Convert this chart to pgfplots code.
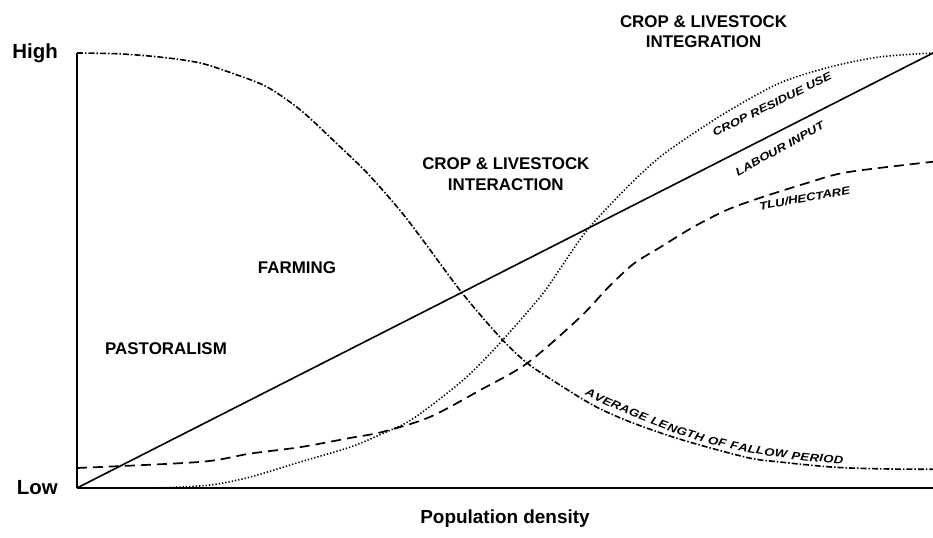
\documentclass[border=0pt]{standalone}
\usepackage{fontspec}
\setmainfont{Liberation Sans}
\setsansfont{Liberation Sans}
\newfontfamily\lab[FakeStretch=1.2]{Liberation Sans}
\usepackage{pgfplots}
\pgfplotsset{compat=1.18}
\usetikzlibrary{decorations.text}
\begin{document}
\begin{tikzpicture}
\useasboundingbox (0,0) rectangle (933bp,538bp);
\begin{axis}[
  at={(77bp,50bp)}, anchor=south west,
  scale only axis, width=856bp, height=435bp,
  xmin=0, xmax=100, ymin=0, ymax=100,
  axis x line*=bottom, axis y line*=left,
  axis line style={-, line width=2bp},
  xtick=\empty,
  ytick={0,100}, yticklabels={\textbf{Low},\textbf{High}},
  major tick length=0pt,
  yticklabel style={font=\fontsize{20.5}{20.5}\selectfont\bfseries, inner sep=0pt, xshift=-19bp},
  xlabel={\textbf{Population density}},
  xlabel style={font=\fontsize{19}{19}\selectfont\bfseries, at={(axis description cs:0.5,0)}, anchor=north, inner sep=0pt, yshift=-22bp},
  clip=false,
]
% Average length of fallow period
\addplot[black, line width=1.6bp, smooth, dash pattern=on 6bp off 2bp on 1.5bp off 2bp] coordinates {
(0,100) (5,99.8) (10,99) (14.4,97.7) (18.2,95.3) (22.2,92.2) (26.1,86.9) (29.9,80) (33.9,72.4) (37.7,63.9) (40.4,57) (45,44.8) (49.4,34.7) (52.6,28.7) (56.8,23.2) (60.7,18.6) (65,14.9) (70.8,11) (78.3,7.0) (82,6.0) (88.3,4.8) (94,4.4) (100,4.3)
};
% Labour input
\addplot[black, line width=1.6bp] coordinates {(0,0) (100,100)};
% TLU/hectare
\addplot[black, line width=1.7bp, smooth, dash pattern=on 10bp off 6bp] coordinates {
(0,4.6) (14.4,6.0) (20.2,7.9) (26.1,9.4) (31.9,11.5) (35.7,12.9) (41.2,16.3) (47.1,22.5) (52.6,28.7) (58.8,39.3) (62,46) (65,51.5) (68.1,55.3) (72,60) (75.9,63.9) (79.8,66.7) (85.6,70.3) (90,72.6) (100,75)
};
% Crop residue use
\addplot[black, line width=1.6bp, smooth, dash pattern=on 1.3bp off 2bp] coordinates {
(0,0) (8,0) (12,0.2) (16,0.8) (20.2,2.5) (26.1,6) (31.9,9.4) (35.7,12.5) (39.3,16.0) (45.1,24.8) (49.4,33.3) (54.1,43.9) (56.4,50.3) (59.6,59.3) (64.3,69.2) (68.1,76.1) (72,81.5) (76.3,86.9) (82.1,93.1) (88,96.8) (93.8,99.1) (100,100)
};

\node[align=center, font=\fontsize{17}{21}\selectfont\bfseries] at (axis cs:50.1,72.1) {CROP \& LIVESTOCK\\INTERACTION};
\node[align=center, font=\fontsize{17}{21}\selectfont\bfseries] at (axis cs:73.2,104.9) {CROP \& LIVESTOCK\\INTEGRATION};
\node[font=\fontsize{17}{17}\selectfont\bfseries] at (axis cs:25.7,50.6) {FARMING};
\node[font=\fontsize{17}{17}\selectfont\bfseries] at (axis cs:10.4,32.0) {PASTORALISM};

\node[inner sep=0pt, font=\lab\fontsize{11}{11}\selectfont\bfseries\itshape, rotate=26] at (axis cs:81.2,88.2) {CROP RESIDUE USE};
\node[inner sep=0pt, font=\lab\fontsize{11}{11}\selectfont\bfseries\itshape, rotate=29] at (axis cs:82.1,78.0) {LABOUR INPUT};
\node[inner sep=0pt, font=\lab\fontsize{11}{11}\selectfont\bfseries\itshape, rotate=10] at (axis cs:85.0,66.6) {TLU/HECTARE};

\path[decorate, decoration={text along path, text align={fit to path},
  text={|\lab\fontsize{11}{11}\selectfont\bfseries\itshape|AVERAGE LENGTH OF FALLOW PERIOD}}]
  (axis cs:59.3,21.4) .. controls (axis cs:65,16) and (axis cs:71,11) .. (axis cs:78,8.3)
  .. controls (axis cs:82.5,6.7) and (axis cs:86,6) .. (axis cs:89.5,5.6);
\end{axis}
\end{tikzpicture}
\end{document}
